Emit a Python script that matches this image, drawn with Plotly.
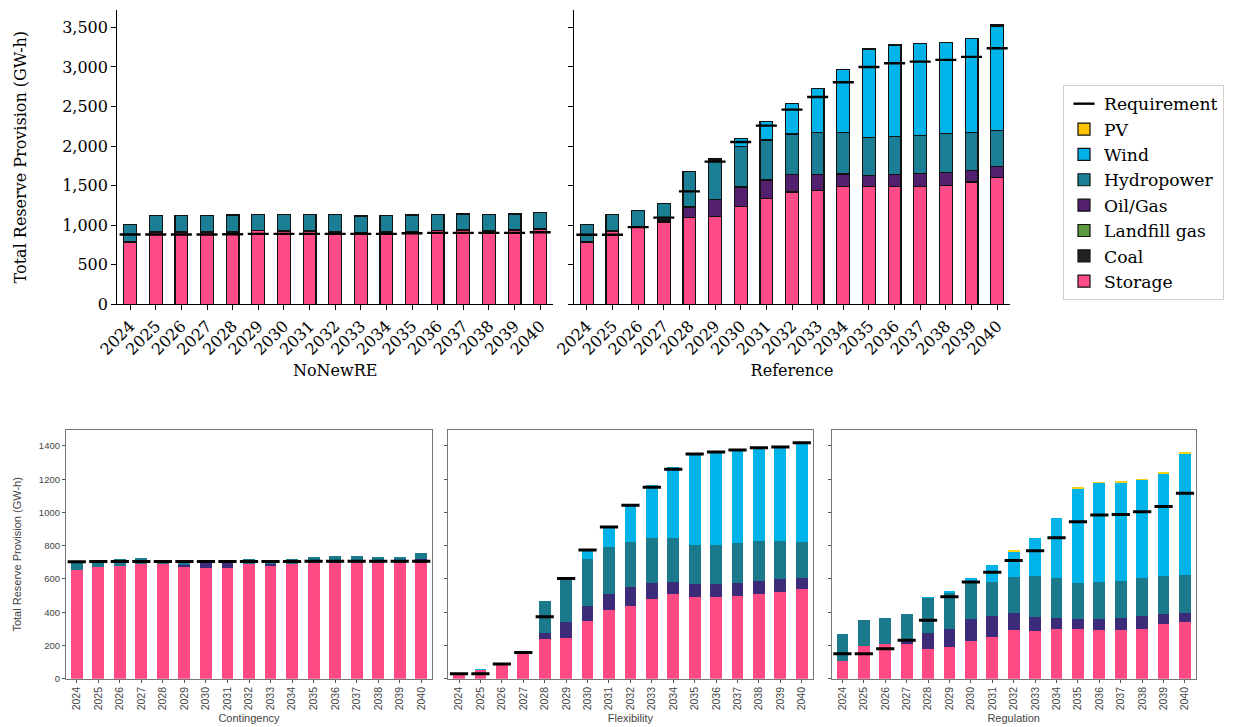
import plotly.graph_objects as go

years = [str(y) for y in range(2024, 2041)]

# ---------------- Top: NoNewRE ----------------
nonew_storage = [780, 915, 908, 915, 915, 928, 919, 923, 915, 902, 912, 915, 928, 932, 923, 932, 945]
nonew_coal = [10, 0, 0, 0, 0, 0, 0, 0, 0, 0, 0, 0, 0, 0, 0, 0, 0]
nonew_landfill = [0, 0, 0, 0, 0, 0, 0, 0, 0, 0, 0, 0, 0, 0, 0, 0, 0]
nonew_oilgas = [0, 9, 8, 9, 9, 9, 9, 9, 9, 9, 12, 9, 9, 9, 9, 9, 11]
nonew_hydro = [218, 202, 205, 202, 206, 197, 206, 202, 210, 206, 197, 206, 197, 201, 202, 201, 207]
nonew_wind = [0, 0, 0, 0, 0, 0, 0, 0, 0, 0, 0, 0, 0, 0, 0, 0, 0]
nonew_pv = [0, 0, 0, 0, 0, 0, 0, 0, 0, 0, 0, 0, 0, 0, 0, 0, 0]
nonew_req = [882, 882, 882, 882, 886, 890, 890, 890, 890, 890, 890, 899, 903, 903, 903, 903, 910]

# ---------------- Top: Reference ----------------
ref_storage = [777, 918, 970, 1040, 1095, 1112, 1234, 1335, 1420, 1441, 1492, 1487, 1487, 1492, 1504, 1546, 1605]
ref_coal = [10, 0, 0, 0, 0, 0, 0, 0, 0, 0, 0, 0, 0, 0, 0, 0, 0]
ref_landfill = [0, 0, 0, 0, 0, 0, 0, 0, 0, 0, 0, 0, 0, 0, 0, 0, 0]
ref_oilgas = [0, 9, 0, 25, 135, 210, 248, 236, 223, 202, 155, 140, 156, 164, 164, 143, 135]
ref_hydro = [224, 206, 218, 207, 447, 503, 513, 506, 510, 531, 523, 484, 481, 480, 489, 485, 459]
ref_wind = [0, 0, 0, 0, 0, 16, 99, 232, 384, 552, 796, 1116, 1154, 1159, 1155, 1188, 1319]
ref_pv = [0, 0, 0, 0, 0, 0, 0, 0, 0, 0, 0, 0, 0, 0, 0, 0, 21]
ref_req = [880, 880, 975, 1095, 1428, 1803, 2052, 2258, 2461, 2621, 2806, 3000, 3047, 3068, 3089, 3127, 3236]

# ---------------- Bottom: Contingency ----------------
cont_storage = [655, 670, 680, 690, 690, 670, 668, 668, 688, 678, 688, 698, 698, 698, 698, 698, 698]
cont_oilgas = [0, 0, 0, 0, 0, 16, 26, 26, 0, 10, 0, 0, 0, 0, 0, 0, 22]
cont_hydro = [48, 44, 40, 36, 26, 26, 18, 18, 32, 24, 34, 32, 38, 38, 34, 34, 34]
cont_wind = [0, 0, 0, 0, 0, 0, 0, 0, 0, 0, 0, 0, 0, 0, 0, 0, 0]
cont_pv = [0, 0, 0, 0, 0, 0, 0, 0, 0, 0, 0, 0, 0, 0, 0, 0, 0]
cont_req = [704, 705, 705, 705, 705, 705, 705, 705, 705, 705, 705, 706, 706, 706, 706, 706, 706]

# ---------------- Bottom: Flexibility ----------------
flex_storage = [24, 55, 86, 158, 236, 246, 345, 413, 439, 477, 507, 491, 493, 499, 507, 521, 537]
flex_oilgas = [0, 0, 0, 0, 39, 97, 94, 94, 114, 98, 74, 76, 78, 76, 82, 76, 68]
flex_hydro = [0, 0, 0, 0, 192, 256, 282, 283, 269, 269, 265, 237, 235, 241, 239, 233, 215]
flex_wind = [0, 3, 10, 2, 0, 4, 53, 122, 224, 322, 429, 547, 557, 559, 557, 561, 595]
flex_pv = [0, 0, 0, 0, 0, 0, 0, 0, 0, 0, 0, 0, 0, 0, 0, 0, 0]
flex_req = [30, 30, 88, 158, 373, 603, 774, 912, 1044, 1152, 1260, 1351, 1363, 1375, 1389, 1393, 1419]

# ---------------- Bottom: Regulation ----------------
reg_storage = [106, 198, 206, 206, 176, 190, 228, 253, 293, 285, 297, 297, 293, 295, 299, 327, 343]
reg_oilgas = [0, 0, 0, 20, 99, 107, 131, 122, 100, 84, 70, 62, 66, 70, 76, 62, 54]
reg_hydro = [161, 155, 161, 161, 212, 216, 216, 206, 220, 250, 238, 216, 222, 224, 228, 230, 224]
reg_wind = [0, 0, 0, 0, 4, 14, 32, 100, 153, 225, 363, 567, 597, 593, 593, 617, 728]
reg_pv = [0, 0, 0, 0, 0, 0, 0, 0, 8, 0, 0, 6, 4, 2, 4, 10, 14]
reg_req = [150, 150, 180, 232, 351, 493, 581, 641, 711, 770, 848, 944, 984, 988, 1004, 1036, 1116]

# ---------------- Styles ----------------
top_colors = {
    "Storage": "#ff4b87", "Coal": "#222222", "Landfill gas": "#5b9a3e",
    "Oil/Gas": "#52206e", "Hydropower": "#1a7f94", "Wind": "#00b4ea", "PV": "#ffc600",
}
bot_colors = {
    "Storage": "#ff4a84", "Coal": "#222222", "Landfill gas": "#5b9a3e",
    "Oil/Gas": "#3c2b78", "Hydropower": "#1a7a8c", "Wind": "#00b4ea", "PV": "#f2d21a",
}
legend_rank = {"Storage": 8, "Coal": 7, "Landfill gas": 6, "Oil/Gas": 5,
               "Hydropower": 4, "Wind": 3, "PV": 2}

SERIF = "DejaVu Serif"
SANS = "Liberation Sans"

fig = go.Figure()

def add_top(xa, ya, series, req, show):
    for name, vals in series:
        fig.add_trace(go.Bar(
            x=years, y=vals, name=name, xaxis=xa, yaxis=ya, width=0.5,
            marker=dict(color=top_colors[name], line=dict(color="#111111", width=1.2)),
            showlegend=show, legendrank=legend_rank[name], legendgroup=name,
        ))
    fig.add_trace(go.Scatter(
        x=years, y=req, name="Requirement", mode="markers", xaxis=xa, yaxis=ya,
        marker=dict(symbol="line-ew", size=15, line=dict(color="black", width=2.4)),
        showlegend=show, legendrank=1, legendgroup="Requirement",
    ))

def add_bottom(xa, ya, series, req):
    for name, vals in series:
        fig.add_trace(go.Bar(
            x=years, y=vals, name=name, xaxis=xa, yaxis=ya, width=0.55,
            marker=dict(color=bot_colors[name], line=dict(width=0)),
            showlegend=False, legendgroup=name,
        ))
    fig.add_trace(go.Scatter(
        x=years, y=req, name="Requirement", mode="markers", xaxis=xa, yaxis=ya,
        marker=dict(symbol="line-ew", size=13, line=dict(color="black", width=3)),
        showlegend=False, legendgroup="Requirement",
    ))

add_top("x", "y", [("Storage", nonew_storage), ("Coal", nonew_coal), ("Landfill gas", nonew_landfill),
                   ("Oil/Gas", nonew_oilgas), ("Hydropower", nonew_hydro), ("Wind", nonew_wind),
                   ("PV", nonew_pv)], nonew_req, True)
add_top("x2", "y2", [("Storage", ref_storage), ("Coal", ref_coal), ("Landfill gas", ref_landfill),
                     ("Oil/Gas", ref_oilgas), ("Hydropower", ref_hydro), ("Wind", ref_wind),
                     ("PV", ref_pv)], ref_req, False)
add_bottom("x3", "y3", [("Storage", cont_storage), ("Oil/Gas", cont_oilgas), ("Hydropower", cont_hydro),
                        ("Wind", cont_wind), ("PV", cont_pv)], cont_req)
add_bottom("x4", "y4", [("Storage", flex_storage), ("Oil/Gas", flex_oilgas), ("Hydropower", flex_hydro),
                        ("Wind", flex_wind), ("PV", flex_pv)], flex_req)
add_bottom("x5", "y5", [("Storage", reg_storage), ("Oil/Gas", reg_oilgas), ("Hydropower", reg_hydro),
                        ("Wind", reg_wind), ("PV", reg_pv)], reg_req)

W, H = 1245, 727

def fx(px):
    return px / W

def fy(py):
    return 1 - py / H

top_x_common = dict(
    type="category", range=[-0.5, 16.5], tickangle=-45, ticks="outside", ticklen=5,
    tickwidth=1.2, tickcolor="black", showline=True, linecolor="black", linewidth=1.3,
    showgrid=False, zeroline=False, tickfont=dict(family=SERIF, size=16, color="black"),
    automargin=False,
)
top_y_common = dict(
    range=[0, 3720], tickvals=[0, 500, 1000, 1500, 2000, 2500, 3000, 3500], tickformat=",",
    ticks="outside", ticklen=5, tickwidth=1.2, tickcolor="black", showline=True,
    linecolor="black", linewidth=1.3, showgrid=False, zeroline=False, automargin=False,
    tickfont=dict(family=SERIF, size=16, color="black"), domain=[fy(304.3), fy(10)],
)
bot_x_common = dict(
    type="category", range=[-0.5, 16.5], tickangle=-90, ticks="outside", ticklen=3,
    tickcolor="#555555", showline=True, mirror=True, linecolor="#777777", linewidth=1.2,
    showgrid=False, zeroline=False, tickfont=dict(family=SANS, size=10.5, color="#444444"),
    automargin=False,
)
bot_y_common = dict(
    range=[0, 1496], tickvals=[0, 200, 400, 600, 800, 1000, 1200, 1400], ticks="outside",
    ticklen=3, tickcolor="#555555", showline=True, mirror=True, linecolor="#777777",
    linewidth=1.2, showgrid=False, zeroline=False, automargin=False,
    tickfont=dict(family=SANS, size=9.5, color="#444444"), domain=[fy(678.7), fy(430)],
)

def top_xtitle(text):
    return dict(text=text, font=dict(family=SERIF, size=16, color="black"), standoff=6)

def bot_xtitle(text):
    return dict(text=text, font=dict(family=SANS, size=11, color="#444444"), standoff=4)

fig.update_layout(
    width=W, height=H, margin=dict(l=0, r=0, t=0, b=0, autoexpand=False),
    paper_bgcolor="white", plot_bgcolor="white", barmode="stack", bargap=0.5,
    xaxis=dict(top_x_common, domain=[fx(117.3), fx(553)], anchor="y", title=top_xtitle("NoNewRE")),
    yaxis=dict(top_y_common, anchor="x",
               title=dict(text="Total Reserve Provision (GW-h)",
                          font=dict(family=SERIF, size=16, color="black"), standoff=31)),
    xaxis2=dict(top_x_common, domain=[fx(574), fx(1010)], anchor="y2", title=top_xtitle("Reference")),
    yaxis2=dict(top_y_common, anchor="x2", showticklabels=False),
    xaxis3=dict(bot_x_common, domain=[fx(66), fx(432)], anchor="y3", title=bot_xtitle("Contingency")),
    yaxis3=dict(bot_y_common, anchor="x3",
                title=dict(text="Total Reserve Provision (GW-h)",
                           font=dict(family=SANS, size=11, color="#444444"))),
    xaxis4=dict(bot_x_common, domain=[fx(448.3), fx(812.5)], anchor="y4", title=bot_xtitle("Flexibility")),
    yaxis4=dict(bot_y_common, anchor="x4", showticklabels=False),
    xaxis5=dict(bot_x_common, domain=[fx(831.7), fx(1195.7)], anchor="y5", title=bot_xtitle("Regulation")),
    yaxis5=dict(bot_y_common, anchor="x5", showticklabels=False),
    legend=dict(
        x=fx(1063), y=fy(85), xanchor="left", yanchor="top",
        bgcolor="white", bordercolor="#d0d0d0", borderwidth=1,
        font=dict(family=SERIF, size=17.2, color="black"), traceorder="normal",
    ),
)

fig.write_html(
    "out.html",
    config={"displayModeBar": False},
    post_script="document.body.style.margin='0px';document.body.style.padding='0px';"
                "document.body.style.overflow='hidden';",
)
